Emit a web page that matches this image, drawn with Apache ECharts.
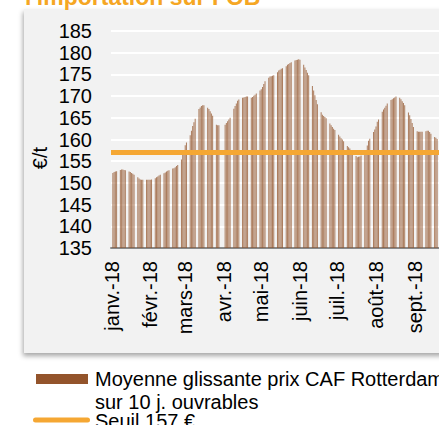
<!DOCTYPE html>
<html>
<head>
<meta charset="utf-8">
<script src="https://cdn.jsdelivr.net/npm/echarts@6/dist/echarts.min.js"></script>
<style>
  html, body { margin: 0; padding: 0; background: #fff; }
  #chart { width: 439px; height: 425px; }
</style>
</head>
<body>
<div id="chart"></div>
<script>
// tick labels, one per month
let monthLabels = ["janv.-18", "févr.-18", "mars-18", "avr.-18", "mai-18", "juin-18", "juil.-18", "août-18", "sept.-18"]
// calendar days on the axis for each month (sept. cut at the 20th)
let monthLengths = [31, 28, 31, 30, 31, 30, 31, 31, 20]

// business days with a quote, and the 10-day moving average (€/t)
let janDays = [2, 3, 4, 5, 8, 9, 10, 11, 12, 15, 16, 17, 18, 19, 22, 23, 24, 25, 26, 29, 30, 31]
let janVals = [152.3, 152.5, 152.6, 152.7, 153.0, 153.1, 153.1, 153.0, 152.9, 152.6, 152.5, 152.3, 152.1, 151.9, 151.3, 151.0, 150.8, 150.7, 150.7, 150.7, 150.7, 150.7]
let febDays = [1, 2, 5, 6, 7, 8, 9, 12, 13, 14, 15, 16, 19, 20, 21, 22, 23, 26, 27, 28]
let febVals = [150.7, 150.8, 151.1, 151.3, 151.5, 151.7, 151.9, 152.2, 152.4, 152.6, 152.8, 152.9, 153.3, 153.4, 153.6, 153.9, 154.1, 155.4, 156.4, 157.5]
let marDays = [1, 2, 5, 6, 7, 8, 9, 12, 13, 14, 15, 16, 19, 20, 21, 22, 23, 26, 27, 28]
let marVals = [158.7, 159.3, 161.0, 162.0, 163.1, 164.0, 164.8, 167.0, 167.4, 167.7, 167.9, 167.9, 167.3, 167.0, 166.5, 166.0, 165.5, 163.4, 163.3, 163.3]
let aprDays = [2, 3, 4, 5, 6, 9, 10, 11, 12, 13, 16, 17, 18, 19, 20, 23, 24, 25, 26, 27, 30]
let aprVals = [163.4, 163.8, 164.2, 164.6, 165.0, 167.1, 167.7, 168.3, 168.9, 169.2, 169.6, 169.7, 169.8, 169.9, 169.9, 169.6, 169.8, 170.1, 170.3, 170.6, 171.3]
let mayDays = [1, 2, 3, 4, 7, 8, 9, 10, 11, 14, 15, 16, 17, 18, 21, 22, 23, 24, 25, 28, 29, 30, 31]
let mayVals = [171.6, 172.1, 172.8, 173.4, 174.2, 174.5, 174.6, 174.7, 174.8, 175.5, 175.9, 176.1, 176.3, 176.4, 176.9, 177.2, 177.4, 177.6, 177.8, 178.2, 178.3, 178.4, 178.5]
let junDays = [1, 4, 5, 6, 7, 8, 11, 12, 13, 14, 15, 18, 19, 20, 21, 22, 25, 26, 27, 28, 29]
let junVals = [178.4, 177.2, 176.6, 176.0, 175.4, 174.8, 172.3, 171.3, 170.2, 169.1, 168.1, 166.3, 165.7, 165.4, 165.2, 164.9, 163.7, 163.3, 162.9, 162.5, 162.2]
let julDays = [2, 3, 4, 5, 6, 9, 10, 11, 12, 13, 16, 17, 18, 19, 20, 23, 24, 25, 26, 27, 30, 31]
let julVals = [161.1, 160.7, 160.3, 160.0, 159.6, 158.5, 158.2, 157.9, 157.5, 157.2, 156.2, 155.9, 156.0, 156.1, 156.3, 156.8, 157.5, 158.6, 159.7, 160.2, 161.7, 162.3]
let augDays = [1, 2, 3, 6, 7, 8, 9, 10, 13, 14, 15, 16, 17, 20, 21, 22, 23, 24, 27, 28, 29, 30, 31]
let augVals = [163.0, 164.1, 164.6, 166.4, 166.9, 167.3, 167.8, 168.3, 169.1, 169.3, 169.5, 169.7, 169.9, 169.6, 169.3, 168.8, 168.4, 167.9, 166.2, 165.6, 164.7, 163.8, 162.9]
let sepDays = [3, 4, 5, 6, 7, 10, 11, 12, 13, 14, 17, 18, 19]
let sepVals = [161.9, 161.8, 161.8, 161.8, 161.8, 161.9, 162.0, 162.0, 161.7, 161.3, 160.6, 160.4, 160.1]

let seuil = 157
let seriesName = "Moyenne glissante prix CAF Rotterdam"

// build the daily category axis and put each quote on its day
function buildData() {
  let allDays = [janDays, febDays, marDays, aprDays, mayDays, junDays, julDays, augDays, sepDays]
  let allVals = [janVals, febVals, marVals, aprVals, mayVals, junVals, julVals, augVals, sepVals]
  let cats = []
  let vals = []
  for (let m = 0; m < monthLengths.length; m++) {
    for (let d = 1; d <= monthLengths[m]; d++) {
      cats.push("d" + m + "_" + d)
      let k = allDays[m].indexOf(d)
      vals.push(k >= 0 ? allVals[m][k] : "-")
    }
  }
  return { cats: cats, vals: vals }
}

function isMonthStart(value) {
  return String(value).split("_")[1] === "1"
}

function initChart() {
  let data = buildData()
  // svg renderer: canvas left a mirrored copy of every rotated label
  let myChart = echarts.init(document.getElementById("chart"), null, { renderer: "svg" })
  let font = "Liberation Sans, Arial, sans-serif"
  let option = {
    backgroundColor: "#fff",
    animation: false,
    textStyle: { fontFamily: font },
    grid: { left: 111, right: 0, top: 31, bottom: 177 },
    graphic: [
      // grey panel behind the plot
      {
        type: "rect", z: -10,
        shape: { x: 24, y: 9, width: 440, height: 344 },
        style: { fill: "#f2f2f2", shadowBlur: 5, shadowColor: "rgba(0,0,0,0.35)", shadowOffsetX: -1, shadowOffsetY: 3 }
      },
      {
        type: "text", x: 25, y: -3,
        style: { text: "l'importation sur FOB", fill: "#f5a623", font: "bold 23px " + font, verticalAlign: "middle" }
      },
      {
        type: "text", x: 40, y: 158, rotation: Math.PI / 2,
        style: { text: "€/t", fill: "#000", font: "20px " + font, align: "center", verticalAlign: "middle" }
      },
      // legend
      { type: "rect", shape: { x: 36, y: 374, width: 52, height: 10 }, style: { fill: "#93542b" } },
      { type: "text", x: 95, y: 379, style: { text: seriesName, fill: "#000", font: "20px " + font, verticalAlign: "middle" } },
      { type: "text", x: 95, y: 402, style: { text: "sur 10 j. ouvrables", fill: "#000", font: "20px " + font, verticalAlign: "middle" } },
      { type: "rect", shape: { x: 33, y: 417.5, width: 57, height: 5, r: 2.5 }, style: { fill: "#f5a733" } },
      { type: "text", x: 95, y: 421, style: { text: "Seuil 157 €", fill: "#000", font: "20px " + font, verticalAlign: "middle" } }
    ],
    xAxis: {
      type: "category",
      data: data.cats,
      axisLine: { lineStyle: { color: "#898989", width: 2 } },
      axisTick: {
        interval: function (i, v) { return isMonthStart(v) },
        length: 5,
        lineStyle: { color: "#898989", width: 2 }
      },
      axisLabel: {
        interval: function (i, v) { return isMonthStart(v) },
        rotate: 90,
        margin: 13,
        fontSize: 20,
        color: "#000",
        formatter: function (value) {
          return monthLabels[Number(String(value).split("_")[0].slice(1))]
        }
      },
      splitLine: { show: false }
    },
    yAxis: {
      type: "value",
      min: 135,
      max: 185,
      interval: 5,
      axisLine: { show: false },
      axisTick: { show: false },
      axisLabel: { fontSize: 20, color: "#000", margin: 19 },
      splitLine: { lineStyle: { color: "#fff", width: 2 } }
    },
    series: [
      {
        name: seriesName,
        type: "bar",
        barWidth: 1,
        data: data.vals,
        itemStyle: { color: "#93542b", opacity: 0.75 },
        markLine: {
          silent: true,
          symbol: "none",
          label: { show: false },
          lineStyle: { color: "#f5a733", width: 5, type: "solid" },
          data: [{ yAxis: seuil }]
        }
      }
    ]
  }
  myChart.setOption(option)
}

initChart()
</script>
</body>
</html>
